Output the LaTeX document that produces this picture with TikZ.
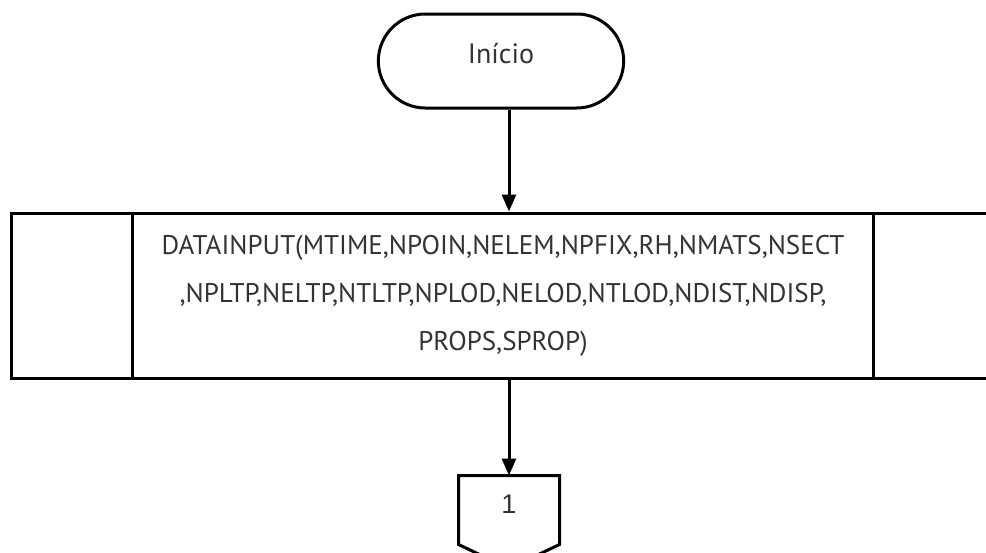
\documentclass[tikz,border=0pt]{standalone}
\usepackage{fontspec}
\setmainfont{PT Sans}
\newfontfamily\arialfont{Liberation Sans}
\usetikzlibrary{arrows.meta,shapes.misc}
\definecolor{txtgray}{HTML}{333333}
\begin{document}
\begin{tikzpicture}[x=1pt,y=-1pt,line width=3pt,>={Triangle[length=17pt,width=14pt]},
	terminal/.style={draw,rounded rectangle,minimum width=252pt,minimum height=94pt,text=txtgray,font=\fontsize{28}{32}\selectfont,text height=13pt,text depth=8pt},
	procbox/.style={draw,rectangle,minimum width=984pt,minimum height=165pt,align=center,text=txtgray,font=\fontsize{27}{48}\selectfont},
	offpage/.style={minimum width=98pt,minimum height=66pt,text=txtgray,font=\arialfont\fontsize{27}{30}\selectfont,text height=13pt,text depth=6pt}]
	\useasboundingbox (0,0) rectangle (986,552);
	\clip (0,0) rectangle (986,552);
	\node[terminal] (start) at (501,61) {Início};
	\node[procbox] (datainput) at (503,295.5) {DATAINPUT(MTIME,NPOIN,NELEM,NPFIX,RH,NMATS,NSECT\\,NPLTP,NELTP,NTLTP,NPLOD,NELOD,NTLOD,NDIST,NDISP,\\PROPS,SPROP)};
	\draw ([xshift=123pt]datainput.north west) -- ([xshift=123pt]datainput.south west);
	\draw ([xshift=-123pt]datainput.north east) -- ([xshift=-123pt]datainput.south east);
	\node[offpage] (conn1) at (509,510) {1};
	\draw (conn1.south west) -- (conn1.north west) -- (conn1.north east) -- (conn1.south east) -- ([yshift=-24pt]conn1.south) -- cycle;
	% flow
	\draw[->] (start.south -| conn1.north) -- (datainput.north -| conn1.north);
	\draw[->] (datainput.south -| conn1.north) -- (conn1.north);
\end{tikzpicture}
\end{document}
